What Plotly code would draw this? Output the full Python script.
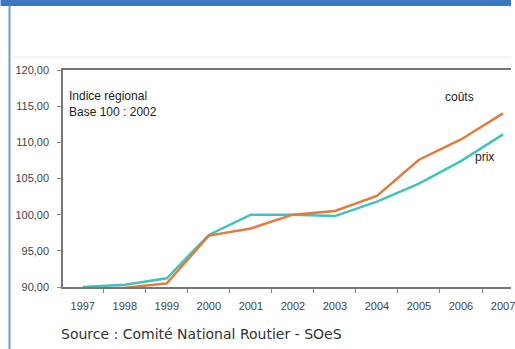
import plotly.graph_objects as go

years = ["1997", "1998", "1999", "2000", "2001", "2002", "2003", "2004", "2005", "2006", "2007"]
couts = [89.7, 89.9, 90.5, 97.1, 98.1, 100.0, 100.5, 102.6, 107.6, 110.4, 114.0]
prix = [90.0, 90.3, 91.2, 97.2, 100.0, 100.0, 99.8, 101.8, 104.3, 107.4, 111.1]
y_ticks = [90, 95, 100, 105, 110, 115, 120]

W, H = 515, 349
L, R, T, B = 63, 0, 70, 62
PW, PH = W - L - R, H - T - B


def px(x):
    return (x - L) / PW


def py(y):
    return (H - B - y) / PH


fig = go.Figure()
fig.add_trace(go.Scatter(x=years, y=prix, mode="lines", name="prix",
                         line=dict(color="#3ec3bd", width=2.5)))
fig.add_trace(go.Scatter(x=years, y=couts, mode="lines", name="coûts",
                         line=dict(color="#e27b3c", width=2.5)))

xfont = dict(family="Liberation Sans, Arial, sans-serif", size=11, color="#444")
yfont = dict(family="Liberation Sans, Arial, sans-serif", size=11, color="#444")

fig.update_layout(
    width=W, height=H,
    margin=dict(l=L, r=R, t=T, b=B),
    paper_bgcolor="white", plot_bgcolor="white",
    showlegend=False,
    separators=", ",
    xaxis=dict(type="category", range=[-0.47, 10.19], showgrid=False,
               showline=True, linecolor="#777", linewidth=1.5, mirror=True,
               ticks="outside", ticklen=4, tickcolor="#888", tickson="boundaries",
               ticklabelstandoff=8, tickfont=xfont, zeroline=False),
    yaxis=dict(range=[90, 120], tickvals=y_ticks, tickformat=".2f", showgrid=False,
               showline=True, linecolor="#777", linewidth=1.5,
               ticks="outside", ticklen=4, tickcolor="#888",
               ticklabelstandoff=6, tickfont=yfont, zeroline=False),
)

shapes = [
    # top blue band
    dict(type="rect", xref="paper", yref="paper", x0=px(0), x1=px(W), y0=py(0), y1=py(6),
         fillcolor="#3b77bf", line=dict(width=0), layer="above"),
    # left blue border
    dict(type="line", xref="paper", yref="paper", x0=px(9), x1=px(9), y0=py(6), y1=py(H),
         line=dict(color="#6f9cd3", width=2)),
    # faint separator line
    dict(type="line", xref="paper", yref="paper", x0=px(10), x1=px(W), y0=py(57), y1=py(57),
         line=dict(color="#e8e8e8", width=1)),
]
fig.update_layout(shapes=shapes)

ann_font = dict(family="Liberation Sans, Arial, sans-serif", size=12, color="#222")
annotations = [
    dict(text="Indice régional", x=px(67), y=py(96), xanchor="left", yanchor="middle"),
    dict(text="Base 100 : 2002", x=px(67), y=py(112), xanchor="left", yanchor="middle"),
    dict(text="coûts", x=px(446), y=py(97), xanchor="left", yanchor="middle"),
    dict(text="prix", x=px(477), y=py(157), xanchor="left", yanchor="middle"),
]
for a in annotations:
    fig.add_annotation(xref="paper", yref="paper", showarrow=False, font=ann_font, **a)

fig.add_annotation(text="Source : Comité National Routier - SOeS", xref="paper", yref="paper",
                   x=px(59), y=py(334), xanchor="left", yanchor="middle", showarrow=False,
                   font=dict(family="DejaVu Sans, Verdana, sans-serif", size=14, color="#333"))

fig.write_html("out.html")
